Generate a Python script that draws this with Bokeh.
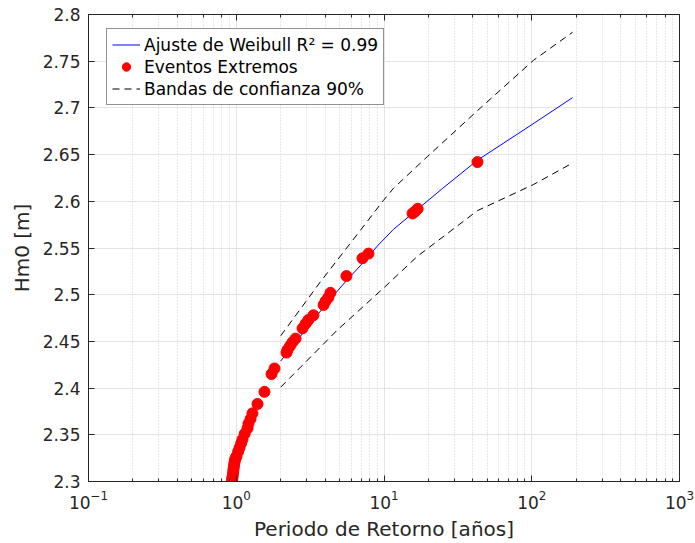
from bokeh.plotting import figure
from bokeh.models import (Range1d, LogAxis, LinearAxis, FixedTicker, CustomJSTickFormatter,
                          Legend, LegendItem, ColumnDataSource, LogTicker)
from bokeh.embed import file_html
from bokeh.resources import INLINE

# Extreme events (return period [years], Hm0 [m])
event_T = [0.935, 0.940, 0.945, 0.950, 0.955, 0.960, 0.966, 0.972, 0.980, 0.990,
           1.004, 1.030, 1.052, 1.080, 1.102, 1.140, 1.192, 1.210, 1.250, 1.288,
           1.393, 1.553, 1.732, 1.815, 2.19, 2.22, 2.31, 2.40, 2.52, 2.81,
           2.95, 3.08, 3.33, 3.90, 4.02, 4.20, 4.34, 5.57, 7.15, 7.85,
           15.6, 16.2, 16.9, 42.9]
event_H = [2.301, 2.303, 2.305, 2.308, 2.311, 2.314, 2.317, 2.320, 2.323, 2.325,
           2.327, 2.332, 2.336, 2.341, 2.345, 2.351, 2.357, 2.362, 2.367, 2.373,
           2.383, 2.396, 2.415, 2.421, 2.438, 2.441, 2.445, 2.449, 2.453, 2.464,
           2.469, 2.473, 2.478, 2.489, 2.493, 2.497, 2.502, 2.520, 2.539, 2.544,
           2.587, 2.589, 2.592, 2.642]

# Weibull fit
fit_T = [2.0, 3.0, 4.15, 5.5, 7.0, 9.0, 11.6, 15.6, 25.0, 42.9, 100.0, 189.0]
fit_H = [2.429, 2.464, 2.492, 2.514, 2.532, 2.552, 2.570, 2.587, 2.614, 2.644, 2.682, 2.711]

# 90% confidence bands
upper_T = [2.0, 3.72, 6.93, 9.92, 11.6, 19.7, 42.9, 102.8, 189.0]
upper_H = [2.456, 2.514, 2.569, 2.601, 2.614, 2.648, 2.697, 2.751, 2.781]
lower_T = [2.0, 4.82, 9.92, 16.8, 42.9, 102.8, 189.0]
lower_H = [2.401, 2.462, 2.507, 2.541, 2.590, 2.618, 2.641]

y_ticks = [2.3, 2.35, 2.4, 2.45, 2.5, 2.55, 2.6, 2.65, 2.7, 2.75, 2.8]

FONT = "DejaVu Sans"
AX = "#262626"

p = figure(x_axis_type="log", x_range=Range1d(0.1, 1000), y_range=Range1d(2.3, 2.8),
           frame_width=591, frame_height=467, output_backend="svg", toolbar_location=None,
           min_border_left=88, min_border_right=16, min_border_top=14, min_border_bottom=62)
p.background_fill_color = "white"
p.border_fill_color = "white"
p.outline_line_color = AX
p.outline_line_width = 1

fmt = CustomJSTickFormatter(code="return (Math.round(tick*100)/100).toString();")
blank = CustomJSTickFormatter(code="return '';")

# axes
xa = p.xaxis[0]
xa.axis_label = "Periodo de Retorno [años]"
ya = p.yaxis[0]
ya.axis_label = "Hm0 [m]"
ya.ticker = FixedTicker(ticks=y_ticks)
ya.formatter = fmt
for ax in (xa, ya):
    ax.axis_line_color = AX
    ax.major_tick_line_color = AX
    ax.minor_tick_line_color = AX
    ax.major_tick_in = 6
    ax.major_tick_out = 0
    ax.minor_tick_in = 3
    ax.minor_tick_out = 0
    ax.major_label_text_font = FONT
    ax.major_label_text_font_size = "17px"
    ax.major_label_text_color = AX
    ax.axis_label_text_font = FONT
    ax.axis_label_text_font_size = "20px"
    ax.axis_label_text_font_style = "normal"
    ax.axis_label_text_color = AX
ya.minor_tick_line_color = None
ya.major_label_standoff = 8
xa.major_label_standoff = 8
ya.axis_label_standoff = 6
xa.axis_label_standoff = 5

top = LogAxis(ticker=LogTicker(), formatter=blank, major_label_text_font_size="2px",
              major_label_standoff=0,
              major_tick_in=6, major_tick_out=0, minor_tick_in=3, minor_tick_out=0,
              axis_line_color=AX, major_tick_line_color=AX, minor_tick_line_color=AX)
right = LinearAxis(ticker=FixedTicker(ticks=y_ticks), formatter=blank,
                   major_label_text_font_size="2px",
                   major_label_standoff=0, major_tick_in=6, major_tick_out=0,
                   minor_tick_line_color=None, axis_line_color=AX, major_tick_line_color=AX)
p.add_layout(top, "above")
p.add_layout(right, "right")

# grids
p.xgrid.grid_line_color = "#e3e3e3"
p.xgrid.minor_grid_line_color = "#d0d0d0"
p.xgrid.minor_grid_line_dash = "1 2"
p.ygrid.ticker = FixedTicker(ticks=y_ticks)
p.ygrid.grid_line_color = "#e3e3e3"

fit_src = ColumnDataSource(dict(T=fit_T, H=fit_H))
ev_src = ColumnDataSource(dict(T=event_T, H=event_H))
up_src = ColumnDataSource(dict(T=upper_T, H=upper_H))
lo_src = ColumnDataSource(dict(T=lower_T, H=lower_H))

r_fit = p.line("T", "H", source=fit_src, line_color="#0000ff", line_width=1)
r_ev = p.scatter("T", "H", source=ev_src, size=11, fill_color="#ff0000", line_color="#ff0000")
r_up = p.line("T", "H", source=up_src, line_color="black", line_width=1, line_dash="7 5")
r_lo = p.line("T", "H", source=lo_src, line_color="black", line_width=1, line_dash="7 5")

legend = Legend(items=[
    LegendItem(label="Ajuste de Weibull R\u00b2 = 0.99", renderers=[r_fit]),
    LegendItem(label="Eventos Extremos", renderers=[r_ev]),
    LegendItem(label="Bandas de confianza 90%", renderers=[r_up]),
], location=(18, 376))
legend.label_text_font = FONT
legend.label_text_font_size = "17px"
legend.label_text_color = "black"
legend.border_line_color = AX
legend.border_line_width = 1
legend.background_fill_alpha = 1
legend.glyph_width = 28
legend.glyph_height = 21
legend.label_height = 21
legend.label_standoff = 4
legend.spacing = 1
legend.padding = 5
legend.margin = 0
p.add_layout(legend, "center")

open("out.html", "w").write(file_html(p, INLINE))
